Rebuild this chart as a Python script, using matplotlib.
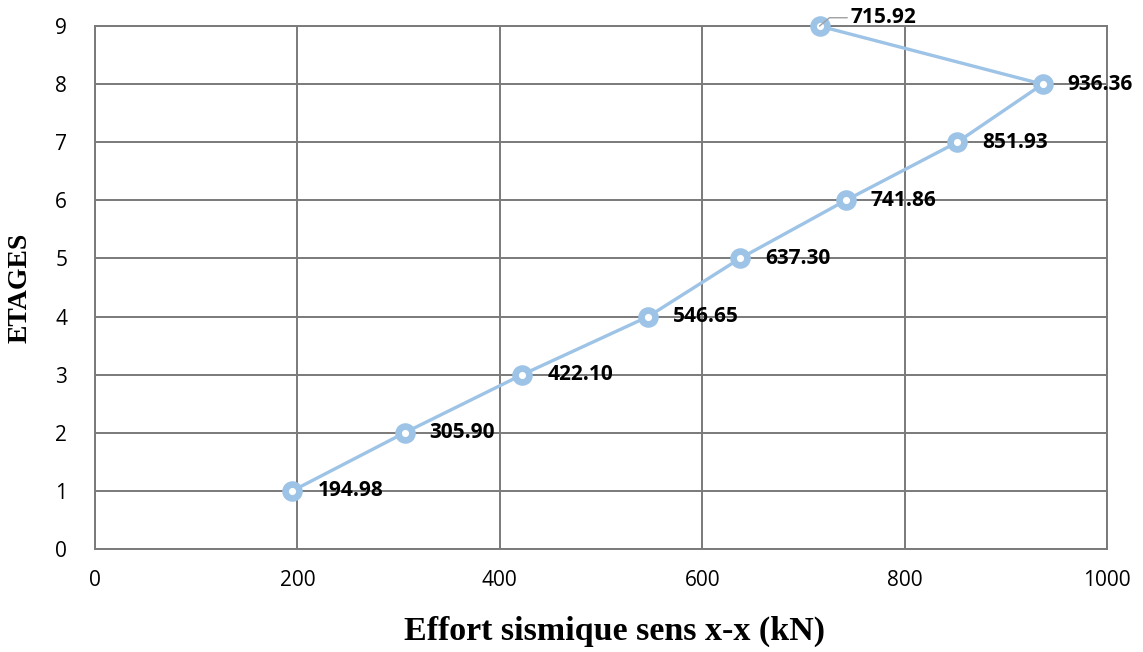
import matplotlib.pyplot as plt

# données : effort sismique par étage
etages = [1, 2, 3, 4, 5, 6, 7, 8, 9]
effort = [194.98, 305.90, 422.10, 546.65, 637.30, 741.86, 851.93, 936.36, 715.92]
etiquettes = ["194.98", "305.90", "422.10", "546.65", "637.30",
              "741.86", "851.93", "936.36", "715.92"]

bleu = "#9DC3E6"
gris = "#7A7A7A"

fig = plt.figure(figsize=(11.43, 6.52), dpi=100)
ax = fig.add_axes([0.0831, 0.158, 0.8854, 0.802])

ax.plot(effort, etages, color=bleu, linewidth=2.4, marker="o",
        markersize=10, markerfacecolor="white", markeredgecolor=bleu,
        markeredgewidth=4.8, zorder=3, clip_on=False)

# étiquettes de données
for x, y, txt in zip(effort, etages, etiquettes):
    if y == 9:
        ax.annotate(txt, xy=(x, y), xytext=(22, 6), textcoords="offset points",
                    fontsize=15, fontweight="bold", family="Open Sans",
                    va="center", ha="left",
                    arrowprops=dict(arrowstyle="-", color="#A0A0A0", lw=1,
                                    shrinkA=0, shrinkB=0,
                                    connectionstyle="angle,angleA=0,angleB=40,rad=0"))
    else:
        ax.annotate(txt, xy=(x, y), xytext=(18, 0), textcoords="offset points",
                    fontsize=15, fontweight="bold", family="Open Sans",
                    va="center", ha="left")

ax.set_xlim(0, 1000)
ax.set_ylim(0, 9)
ax.set_xticks(range(0, 1001, 200))
ax.set_yticks(range(0, 10))
ax.grid(True, color=gris, linewidth=1.4)
ax.set_axisbelow(True)
for s in ax.spines.values():
    s.set_color(gris)
    s.set_linewidth(1.4)
ax.tick_params(length=0, labelsize=15, pad=0)
ax.tick_params(axis="x", pad=15)
ax.tick_params(axis="y", pad=20)
for lab in ax.get_xticklabels() + ax.get_yticklabels():
    lab.set_family("Open Sans")

ax.set_xlabel("Effort sismique sens x-x (kN)", family="Liberation Serif",
              fontweight="bold", fontsize=24.5)
ax.xaxis.set_label_coords(0.513, -0.127)
ax.set_ylabel("ETAGES", family="Liberation Serif", fontweight="bold",
              fontsize=20, labelpad=16)

plt.savefig("out.png", dpi=100)
